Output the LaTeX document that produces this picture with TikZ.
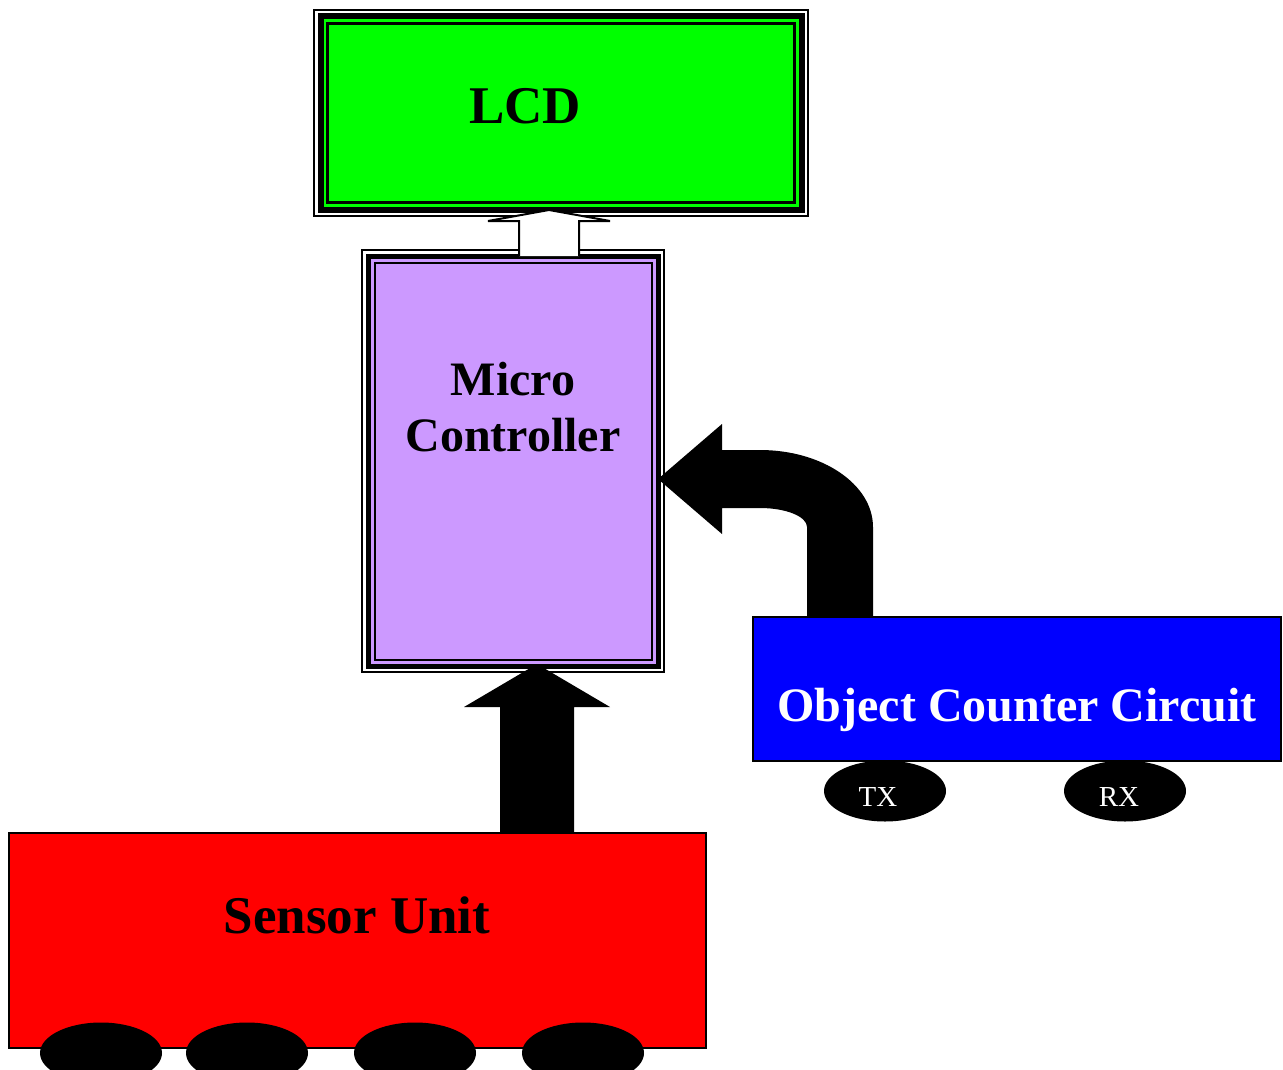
\documentclass[tikz,border=0pt]{standalone}
\usepackage{fontspec}
\setmainfont{Liberation Serif}
\usetikzlibrary{shapes.geometric,calc}
\definecolor{lcdgreen}{RGB}{0,255,0}
\definecolor{mcpurple}{RGB}{204,153,255}
\definecolor{occblue}{RGB}{0,0,255}
\definecolor{sensred}{RGB}{255,0,0}
\tikzset{
  box/.style={rectangle, inner sep=0pt, draw=black, line width=2pt},
  pad/.style={ellipse, inner sep=0pt, fill=black, minimum width=122pt, minimum height=61pt},
  bigtext/.style={font=\fontsize{53}{60}\selectfont\bfseries, anchor=base, inner sep=0pt},
  midtext/.style={font=\fontsize{48}{55}\selectfont\bfseries, anchor=base, inner sep=0pt},
  padtext/.style={font=\fontsize{29}{32}\selectfont, text=white, anchor=base, inner sep=0pt},
  blockarrow/.style={fill=black, draw=none},
  hollowarrow/.style={fill=white, draw=black, line width=2pt, line join=miter}
}
\begin{document}
\begin{tikzpicture}[x=1pt,y=-1pt]
\useasboundingbox[fill=white] (0,0) rectangle (1283,1070);

% LCD
\node[box, minimum width=494pt, minimum height=206pt] (lcd) at (561,113) {};
\draw[line width=6pt, fill=lcdgreen] ([shift={(7.5,7.5)}]lcd.north west) rectangle ([shift={(-7.5,-7.5)}]lcd.south east);
\draw[line width=2.5pt] ([shift={(14.5,14.5)}]lcd.north west) rectangle ([shift={(-14.5,-14.5)}]lcd.south east);
\node[bigtext] (lcdtext) at (525,124) {LCD};

% Micro controller
\node[box, minimum width=302pt, minimum height=422pt] (mc) at (513,461) {};
\draw[line width=5pt, fill=mcpurple] ([shift={(7,7)}]mc.north west) rectangle ([shift={(-7,-7)}]mc.south east);
\draw[line width=2pt] ([shift={(13.5,13.5)}]mc.north west) rectangle ([shift={(-13.5,-13.5)}]mc.south east);
\node[midtext] (mct1) at (513,395) {Micro};
\node[midtext] (mct2) at (513,451) {Controller};

% hollow arrow MC -> LCD
\coordinate (wtip) at (549,210);
\draw[hollowarrow] (519,256) -- (519,221) -- (488,221) -- (wtip) -- (610,221) -- (579,221) -- (579,256);

% curved arrow OCC -> MC
\coordinate (ctip) at (658,479);
\fill[blockarrow] (807,617) -- (807,527) arc[start angle=0, end angle=-90, x radius=47, y radius=19]
  -- (722,508) -- (722,534) -- (ctip) -- (722,424) -- (722,450) -- (760,450)
  arc[start angle=-90, end angle=0, x radius=113, y radius=77] -- (873,617) -- cycle;

% black arrow sensor -> MC
\coordinate (btip) at (537,664);
\fill[blockarrow] (500,833) -- (500,707) -- (464,707) -- (btip) -- (610,707) -- (574,707) -- (574,833) -- cycle;

% Object counter circuit
\node[box, fill=occblue, minimum width=528pt, minimum height=144pt] (occ) at (1017,689) {};
\node[midtext, text=white] (occtext) at (1017,721) {Object Counter Circuit};
\node[pad] (tx) at (885,791) {};
\node[padtext] (txt) at (878,806) {TX};
\node[pad] (rx) at (1125,791) {};
\node[padtext] (rxt) at (1119,806) {RX};

% Sensor unit
\node[box, fill=sensred, minimum width=697pt, minimum height=215pt] (sens) at (357,940.5) {};
\node[bigtext] (senstext) at (357,933) {Sensor Unit};
\node[pad] (s1) at (101,1053) {};
\node[pad] (s2) at (247,1053) {};
\node[pad] (s3) at (415,1053) {};
\node[pad] (s4) at (583,1053) {};
\end{tikzpicture}
\end{document}
